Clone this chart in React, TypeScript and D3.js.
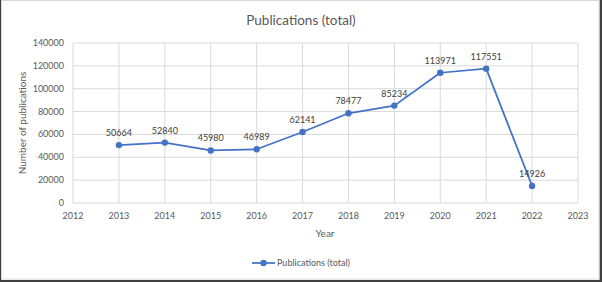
import React from "react";
import * as d3 from "d3";

const years = [2013, 2014, 2015, 2016, 2017, 2018, 2019, 2020, 2021, 2022];
const publications = [50664, 52840, 45980, 46989, 62141, 78477, 85234, 113971, 117551, 14926];
const xTicks = [2012, 2013, 2014, 2015, 2016, 2017, 2018, 2019, 2020, 2021, 2022, 2023];
const yTicks = [0, 20000, 40000, 60000, 80000, 100000, 120000, 140000];
const title = "Publications (total)";
const xTitle = "Year";
const yTitle = "Number of publications";
const seriesName = "Publications (total)";

const W = 602;
const H = 282;
const FONT = "Lato, 'Open Sans', sans-serif";
const BLUE = "#4472C4";

export default function App() {
  const x = d3.scaleLinear().domain([2012, 2023]).range([73, 578]);
  const y = d3.scaleLinear().domain([0, 140000]).range([203, 43]);
  const pts = years.map((yr, i) => [yr, publications[i]] as [number, number]);
  const line = d3
    .line<[number, number]>()
    .x((d) => x(d[0]))
    .y((d) => y(d[1]));

  return (
    <svg
      width={W}
      height={H}
      style={{ position: "absolute", left: 0, top: 0, display: "block" }}
      fontFamily={FONT}
    >
      <rect x={0} y={0} width={W} height={H} fill="#404040" />
      <rect x={1.5} y={0} width={598} height={280} fill="#fff" />
      <rect x={1.5} y={0.5} width={597.5} height={278.5} fill="none" stroke="#d9d9d9" strokeWidth={1} />

      <text x={301} y={25} textAnchor="middle" fontSize={13.5} fill="#595959">
        {title}
      </text>

      {/* grid */}
      {yTicks.map((t) => (
        <line key={"gy" + t} x1={73} x2={578} y1={y(t)} y2={y(t)} stroke="#d9d9d9" strokeWidth={1} />
      ))}
      {xTicks.map((t) => (
        <line key={"gx" + t} x1={x(t)} x2={x(t)} y1={y(0)} y2={y(140000)} stroke="#d9d9d9" strokeWidth={1} />
      ))}

      {/* y tick labels */}
      {yTicks.map((t) => (
        <text key={"ty" + t} x={64} y={y(t) + 3} textAnchor="end" fontSize={9} fill="#595959">
          {t}
        </text>
      ))}
      {/* x tick labels */}
      {xTicks.map((t) => (
        <text key={"tx" + t} x={x(t)} y={219} textAnchor="middle" fontSize={9} fill="#595959">
          {t}
        </text>
      ))}

      <text x={325} y={237} textAnchor="middle" fontSize={10} fill="#595959">
        {xTitle}
      </text>
      <text
        transform={`translate(26,123) rotate(-90)`}
        textAnchor="middle"
        fontSize={10}
        fill="#595959"
      >
        {yTitle}
      </text>

      <path d={line(pts) || ""} fill="none" stroke={BLUE} strokeWidth={1.75} strokeLinejoin="round" />
      {pts.map((p) => (
        <circle key={"c" + p[0]} cx={x(p[0])} cy={y(p[1])} r={3.2} fill={BLUE} />
      ))}
      {pts.map((p) => (
        <text
          key={"l" + p[0]}
          x={x(p[0])}
          y={y(p[1]) - 9}
          textAnchor="middle"
          fontSize={9}
          fill="#404040"
        >
          {p[1]}
        </text>
      ))}

      {/* legend */}
      <line x1={252} x2={275} y1={263} y2={263} stroke={BLUE} strokeWidth={1.75} />
      <circle cx={263.5} cy={263} r={3.2} fill={BLUE} />
      <text x={277} y={266} fontSize={9} fill="#595959">
        {seriesName}
      </text>
    </svg>
  );
}
